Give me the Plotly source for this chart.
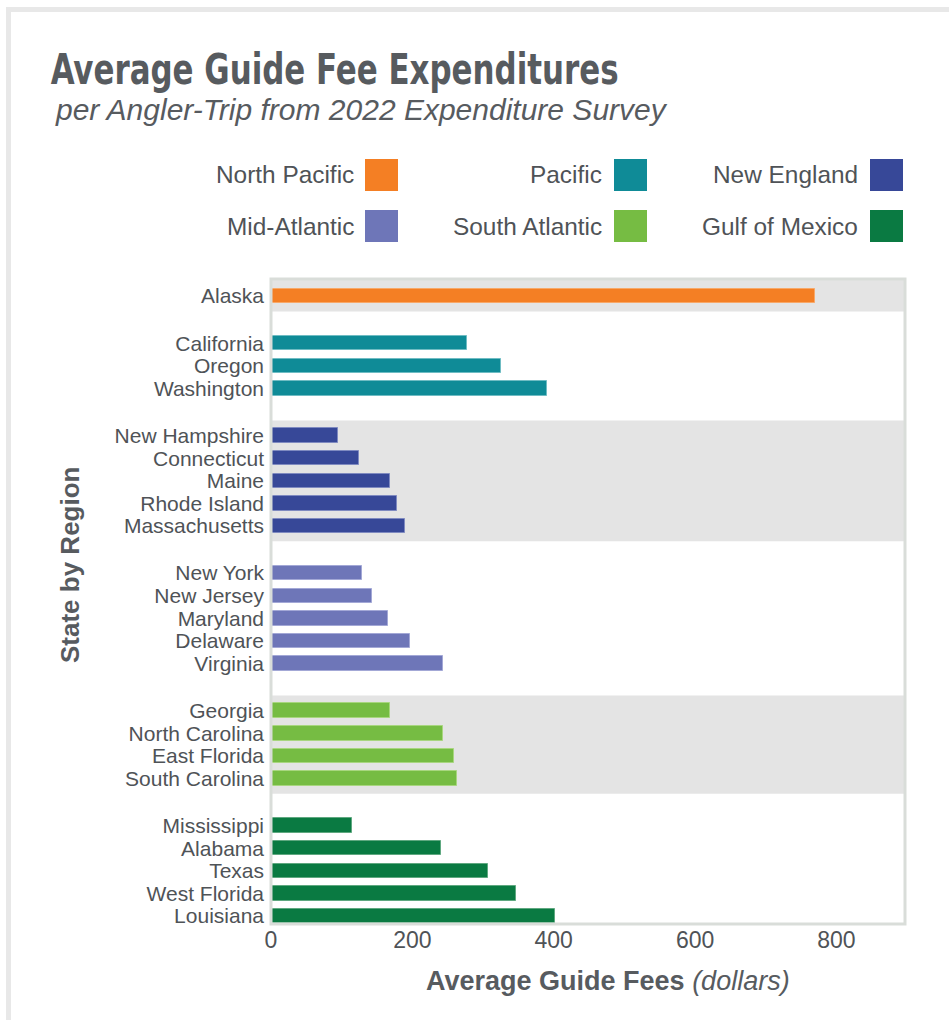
import plotly.graph_objects as go

# ---------------- data ----------------
regions = ["North Pacific", "Pacific", "New England", "Mid-Atlantic", "South Atlantic", "Gulf of Mexico"]
north_pacific_states = ["Alaska"]
north_pacific_fees = [769]
pacific_states = ["California", "Oregon", "Washington"]
pacific_fees = [278, 326, 390]
new_england_states = ["New Hampshire", "Connecticut", "Maine", "Rhode Island", "Massachusetts"]
new_england_fees = [95, 125, 168, 178, 190]
mid_atlantic_states = ["New York", "New Jersey", "Maryland", "Delaware", "Virginia"]
mid_atlantic_fees = [129, 143, 165, 196, 244]
south_atlantic_states = ["Georgia", "North Carolina", "East Florida", "South Carolina"]
south_atlantic_fees = [168, 244, 259, 263]
gulf_states = ["Mississippi", "Alabama", "Texas", "West Florida", "Louisiana"]
gulf_fees = [115, 240, 307, 346, 402]
x_ticks = [0, 200, 400, 600, 800]

colors = ["#F47F24", "#0F8B97", "#374898", "#6E76B8", "#76BC43", "#0A7A42"]
edge_colors = ["#F8A868", "#6FBCC3", "#7F8AC0", "#A3A8D6", "#A8D67F", "#5FA880"]

groups = [
    (north_pacific_states, north_pacific_fees),
    (pacific_states, pacific_fees),
    (new_england_states, new_england_fees),
    (mid_atlantic_states, mid_atlantic_fees),
    (south_atlantic_states, south_atlantic_fees),
    (gulf_states, gulf_fees),
]

# ---------------- layout geometry ----------------
W, H = 949, 1020
L, R, T, B = 271, 44, 279, 96
PW, PH = W - L - R, H - T - B
def px(x):
    return (x - L) / PW
def py(y):
    return (H - B - y) / PH

GROUP_GAP = 2.09
positions = []
pos = 0.0
for gi, (states, fees) in enumerate(groups):
    if gi > 0:
        pos += GROUP_GAP - 1
    p = []
    for _ in states:
        p.append(pos)
        pos += 1
    positions.append(p)
last_pos = positions[-1][-1]
y_top = -0.754
y_bottom = last_pos + 0.355

FONT = "Liberation Sans, Arial, Helvetica, sans-serif"
TXT = "#4F5357"
TITLE_C = "#575B5F"
TITLE_TEXT = "Average Guide Fee Expenditures"

fig = go.Figure()
all_pos, all_names = [], []
for gi, (states, fees) in enumerate(groups):
    fig.add_trace(go.Bar(
        y=positions[gi], x=fees, orientation="h", width=0.64,
        marker=dict(color=colors[gi], line=dict(color=edge_colors[gi], width=1)),
        name=regions[gi], showlegend=False,
        hovertemplate="%{text}: $%{x}<extra></extra>", text=states, textposition="none",
    ))
    all_pos += positions[gi]
    all_names += states

shapes = []
# alternating gray bands
for gi in (0, 2, 4):
    y0 = positions[gi][0] - 0.67
    if gi == 0:
        y0 = y_top
    y1 = positions[gi][-1] + 0.68
    shapes.append(dict(type="rect", xref="paper", yref="y", x0=0, x1=1, y0=y0, y1=y1,
                       fillcolor="#E4E4E4", line=dict(width=0), layer="below"))
# plot frame
shapes.append(dict(type="rect", xref="paper", yref="paper", x0=0, x1=1, y0=0, y1=1,
                   line=dict(color="#D9DDD9", width=3), fillcolor="rgba(0,0,0,0)", layer="above"))
# outer page frame (top & left)
shapes.append(dict(type="rect", xref="paper", yref="paper", x0=px(6), x1=px(W + 2), y0=py(12), y1=py(7),
                   fillcolor="#E8E8E8", line=dict(width=0), layer="above"))
shapes.append(dict(type="rect", xref="paper", yref="paper", x0=px(6), x1=px(11), y0=py(H + 2), y1=py(7),
                   fillcolor="#E8E8E8", line=dict(width=0), layer="above"))

annotations = []
# legend (label left of swatch)
legend_cols = [(356, 365), (604, 614), (860, 870)]
legend_rows = [175, 226]
for i, name in enumerate(regions):
    r, c = divmod(i, 3)
    lx, sx = legend_cols[c]
    cy = legend_rows[r]
    annotations.append(dict(text=name, x=px(lx), y=py(cy), xref="paper", yref="paper",
                            xanchor="right", yanchor="middle", showarrow=False,
                            font=dict(family=FONT, size=24.4, color=TXT)))
    shapes.append(dict(type="rect", xref="paper", yref="paper", x0=px(sx), x1=px(sx + 33),
                       y0=py(cy + 16), y1=py(cy - 16), fillcolor=colors[i], line=dict(width=0)))

# title & subtitle
annotations.append(dict(text="<b>" + TITLE_TEXT + "</b>", x=px(334), y=py(68.5),
                        xref="paper", yref="paper", xanchor="center", yanchor="middle", showarrow=False,
                        font=dict(family="DejaVu Sans Condensed, Liberation Sans Narrow, Arial Narrow, sans-serif",
                                  size=43, color=TITLE_C)))
annotations.append(dict(text="<i>per Angler-Trip from 2022 Expenditure Survey</i>", x=px(53), y=py(110),
                        xref="paper", yref="paper", xanchor="left", yanchor="middle", showarrow=False,
                        font=dict(family=FONT, size=30, color=TITLE_C)))
# axis titles
annotations.append(dict(text="<b>Average Guide Fees</b> <i>(dollars)</i>", x=px(608), y=py(981),
                        xref="paper", yref="paper", xanchor="center", yanchor="middle", showarrow=False,
                        font=dict(family=FONT, size=27, color=TITLE_C)))
annotations.append(dict(text="<b>State by Region</b>", x=px(70), y=py(565), textangle=-90,
                        xref="paper", yref="paper", xanchor="center", yanchor="middle", showarrow=False,
                        font=dict(family=FONT, size=26, color=TITLE_C)))

fig.update_layout(
    width=W, height=H,
    margin=dict(l=L, r=R, t=T, b=B, autoexpand=False),
    paper_bgcolor="white", plot_bgcolor="white",
    bargap=0, showlegend=False,
    shapes=shapes, annotations=annotations,
    xaxis=dict(range=[0, 897], tickvals=x_ticks, ticktext=[str(v) for v in x_ticks],
               showgrid=False, zeroline=False, showline=False, ticks="",
               tickfont=dict(family=FONT, size=23, color=TXT), ticklabelstandoff=0),
    yaxis=dict(range=[y_bottom, y_top], tickvals=all_pos, ticktext=all_names,
               showgrid=False, zeroline=False, showline=False, ticks="",
               tickfont=dict(family=FONT, size=21, color=TXT), ticklabelstandoff=6),
)

post = """
document.body.style.margin = '0px';
document.querySelectorAll('text.annotation-text').forEach(function(t){
  if (t.textContent.indexOf('%s') === 0) {
    t.setAttribute('textLength', '568');
    t.setAttribute('lengthAdjust', 'spacingAndGlyphs');
  }
});
""" % TITLE_TEXT

fig.write_html("out.html", post_script=post, config={"displayModeBar": False})
